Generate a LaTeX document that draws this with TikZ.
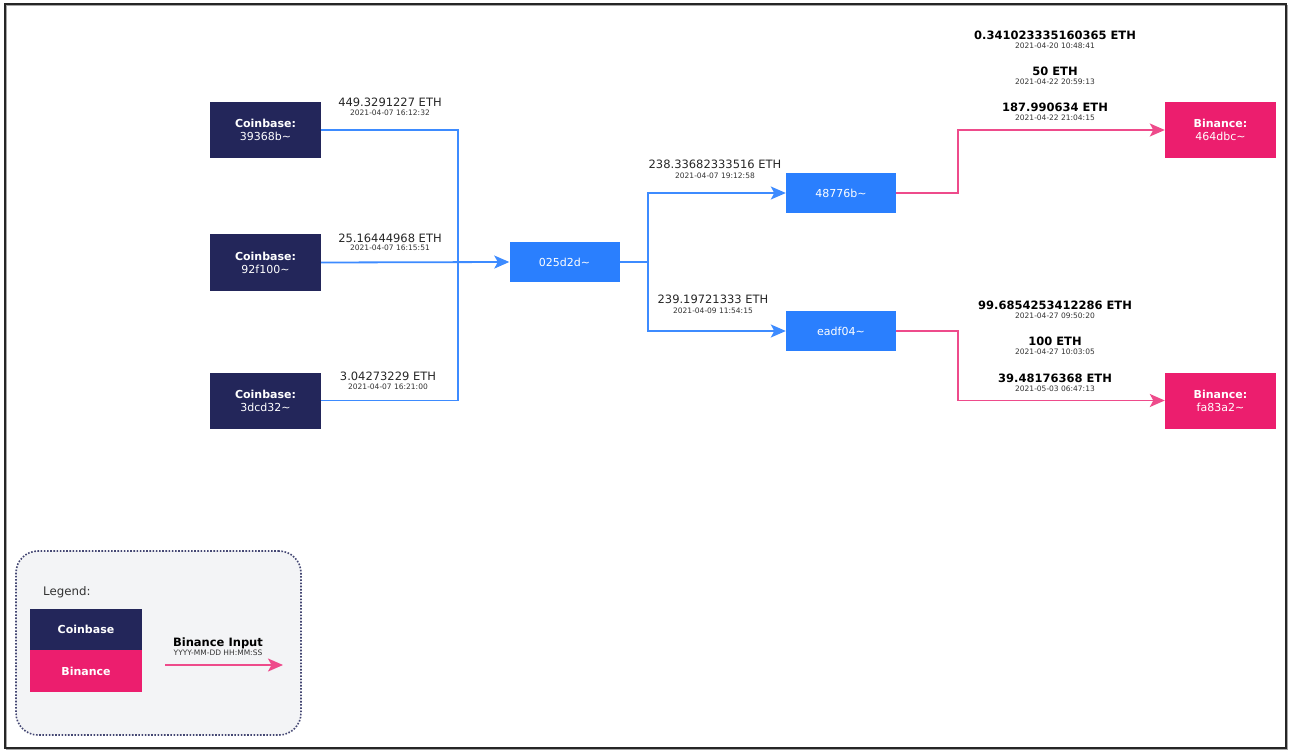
\documentclass[tikz,border=0pt]{standalone}
\usepackage{fontspec}
\setmainfont{DejaVu Sans}
\usetikzlibrary{arrows.meta}
\definecolor{cbnavy}{HTML}{23265A}
\definecolor{nodeblue}{HTML}{2A7FFE}
\definecolor{bnpink}{HTML}{EC1E6E}
\definecolor{lineblue}{HTML}{3D8BFF}
\definecolor{linepink}{HTML}{EE4B8B}
\definecolor{legendbg}{HTML}{F3F4F6}
\definecolor{datecol}{HTML}{333333}
\tikzset{
  box/.style={draw=none, minimum width=111pt, minimum height=56pt, inner sep=0pt, align=center, text=white, font=\fontsize{11}{13}\selectfont},
  cbbox/.style={box, fill=cbnavy},
  bnbox/.style={box, fill=bnpink},
  midbox/.style={draw=none, fill=nodeblue, minimum width=110pt, minimum height=40pt, inner sep=0pt, text=white, font=\fontsize{11}{13}\selectfont},
  amt/.style={inner sep=0pt, text=black!85, font=\fontsize{11.5}{13}\selectfont},
  bamt/.style={inner sep=0pt, text=black, font=\fontsize{11.5}{13}\selectfont\bfseries},
  dt/.style={inner sep=0pt, text=datecol, font=\fontsize{7.5}{8}\selectfont},
  blue flow/.style={draw=lineblue, line width=1.8pt},
  pink flow/.style={draw=linepink, line width=1.8pt},
  tip/.style={-{Stealth[length=15pt,width=13pt,inset=3.5pt]}},
}
\begin{document}
\begin{tikzpicture}[x=1pt,y=-1pt]
\useasboundingbox (0,0) rectangle (1289,751);
% outer frame
\draw[black!35, line width=1.5pt] (6.5,5.5) rectangle (1287.5,749.5);
\draw[black!85, line width=1.2pt] (5,4) rectangle (1286,748);

% nodes
\node[cbbox] (c1) at (265.5,130) {\textbf{Coinbase:}\\39368b\textasciitilde};
\node[cbbox] (c2) at (265.5,262.5) {\textbf{Coinbase:}\\92f100\textasciitilde};
\node[cbbox] (c3) at (265.5,400.5) {\textbf{Coinbase:}\\3dcd32\textasciitilde};
\node[midbox] (hub) at (564.5,262) {025d2d\textasciitilde};
\node[midbox] (n1) at (841,193) {48776b\textasciitilde};
\node[midbox] (n2) at (841,331) {eadf04\textasciitilde};
\node[bnbox] (b1) at (1220.5,130) {\textbf{Binance:}\\464dbc\textasciitilde};
\node[bnbox] (b2) at (1220.5,400.5) {\textbf{Binance:}\\fa83a2\textasciitilde};

% junctions
\coordinate (j1) at (458,262);
\coordinate (j2) at (648,262);
\coordinate (j3) at (958,193);
\coordinate (j4) at (958,331);

% connectors
\draw[blue flow] (c1.east) -| (j1);
\draw[blue flow] (c3.east) -| (j1);
\draw[blue flow, tip] (c2.east) -- (hub.west);
\draw[blue flow] (hub.east) -- (j2);
\draw[blue flow, tip] (j2) |- (n1.west);
\draw[blue flow, tip] (j2) |- (n2.west);
\draw[pink flow, tip] (n1.east) -- (j3) |- (b1.west);
\draw[pink flow, tip] (n2.east) -- (j4) |- (b2.west);

% labels left
\node[amt] (a1) at (390,102) {449.3291227 ETH};
\node[dt] (d1) at (390,113) {2021-04-07 16:12:32};
\node[amt] (a2) at (390,238) {25.16444968 ETH};
\node[dt] (d2) at (390,248) {2021-04-07 16:15:51};
\node[amt] (a3) at (388,376) {3.04273229 ETH};
\node[dt] (d3) at (388,387) {2021-04-07 16:21:00};
% labels middle
\node[amt] (a4) at (715,164) {238.33682333516 ETH};
\node[dt] (d4) at (715,176) {2021-04-07 19:12:58};
\node[amt] (a5) at (713,299) {239.19721333 ETH};
\node[dt] (d5) at (713,311) {2021-04-09 11:54:15};
% labels right
\node[bamt] (a6) at (1055,35) {0.341023335160365 ETH};
\node[dt] (d6) at (1055,46) {2021-04-20 10:48:41};
\node[bamt] (a7) at (1055,71) {50 ETH};
\node[dt] (d7) at (1055,82) {2021-04-22 20:59:13};
\node[bamt] (a8) at (1055,107) {187.990634 ETH};
\node[dt] (d8) at (1055,118) {2021-04-22 21:04:15};
\node[bamt] (a9) at (1055,305) {99.6854253412286 ETH};
\node[dt] (d9) at (1055,316) {2021-04-27 09:50:20};
\node[bamt] (a10) at (1055,341) {100 ETH};
\node[dt] (d10) at (1055,352) {2021-04-27 10:03:05};
\node[bamt] (a11) at (1055,378) {39.48176368 ETH};
\node[dt] (d11) at (1055,389) {2021-05-03 06:47:13};

% legend
\node[draw=cbnavy!85, fill=legendbg, line width=1.6pt, dash pattern=on 1.6pt off 1.6pt, rounded corners=22pt, minimum width=285pt, minimum height=184pt, inner sep=0pt] (leg) at (158.5,643) {};
\node[anchor=west, inner sep=0pt, text=black!80, font=\fontsize{11.8}{13}\selectfont] (legt) at (43,592) {Legend:};
\node[fill=cbnavy, minimum width=112pt, minimum height=41pt, inner sep=0pt, text=white, font=\fontsize{11}{13}\selectfont\bfseries] (lc) at (86,629.5) {Coinbase};
\node[fill=bnpink, minimum width=112pt, minimum height=42pt, inner sep=0pt, text=white, font=\fontsize{11}{13}\selectfont\bfseries] (lb) at (86,671) {Binance};
\coordinate (la1) at (165,665);
\coordinate (la2) at (283,665);
\draw[pink flow, tip] (la1) -- (la2);
\node[bamt] (lbi) at (218,643) {Binance Input};
\node[dt] (lbd) at (218,653) {YYYY-MM-DD HH:MM:SS};
\end{tikzpicture}
\end{document}
